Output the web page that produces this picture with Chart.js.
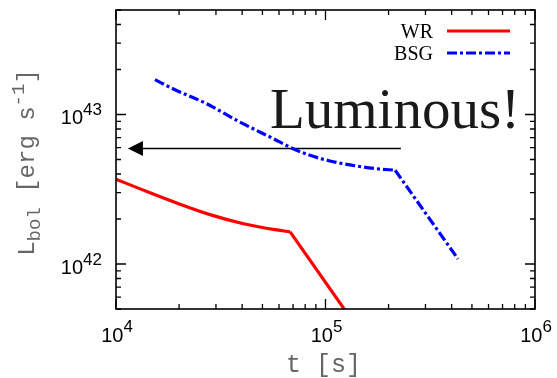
<!DOCTYPE html>
<html>
<head>
<meta charset="utf-8">
<script src="https://cdn.jsdelivr.net/npm/chart.js@4/dist/chart.umd.min.js"></script>
<style>
  html, body { margin: 0; padding: 0; background: #fff; }
  canvas { display: block; }
</style>
</head>
<body>
<canvas id="c" width="557" height="378"></canvas>
<script>
// Bolometric light curves, t [s] vs L_bol [erg/s]
// Each curve has a smooth early part and a steep power-law tail after a break point.
const wrTime = [1.0e4, 1.35e4, 1.95e4, 2.81e4, 4.06e4, 5.85e4, 6.78e4, 1.585e5];
const wrLum  = [3.69e42, 3.12e42, 2.56e42, 2.14e42, 1.86e42, 1.69e42, 1.64e42, 3.0e41];
const wrBreak = 6; // index of the break point

const bsgTime = [1.535e4, 1.88e4, 2.71e4, 3.91e4, 5.64e4, 7.01e4, 8.43e4, 1.05e5, 1.41e5, 1.75e5, 2.15e5, 4.29e5];
const bsgLum  = [1.71e43, 1.48e43, 1.18e43, 8.89e42, 6.89e42, 5.90e42, 5.33e42, 4.89e42, 4.52e42, 4.34e42, 4.24e42, 1.08e42];
const bsgBreak = 10;

// Axis ranges and decade labels
const xRange = [1e4, 1e6];
const yRange = [5e41, 5e43];
const xDecades = [4, 5, 6];
const yDecades = [42, 43];

// Arrow: from (arrowFrom, arrowLevel) pointing to (arrowTo, arrowLevel)
const arrowFrom = 2.29e5;
const arrowTo = 1.14e4;
const arrowLevel = 5.93e42;

// Annotation text anchor
const labelText = 'Luminous!';
const labelAt = { t: 5.43e4, L: 8.07e42 };

const seriesNames = ['WR', 'BSG'];
const seriesColors = ['#ff0000', '#0000ff'];
const bsgDash = [10, 3, 3, 3];

function points(ts, ls, from, to) {
  const out = [];
  for (let i = from; i <= to; i++) out.push({ x: ts[i], y: ls[i] });
  return out;
}

function minorValues(lo, hi) {
  const out = [];
  let d = Math.pow(10, Math.floor(Math.log10(lo)));
  while (d <= hi) {
    for (let m = 1; m <= 9; m++) {
      const v = m * d;
      if (v >= lo * 0.999 && v <= hi * 1.001) out.push({ v, major: m === 1 });
    }
    d *= 10;
  }
  return out;
}

const framePlugin = {
  id: 'frame',
  beforeDatasetsDraw(chart) {
    const { ctx, scales: { x, y } } = chart;
    // arrow
    const yy = y.getPixelForValue(arrowLevel);
    const x0 = x.getPixelForValue(arrowFrom);
    const x1 = x.getPixelForValue(arrowTo);
    ctx.save();
    ctx.strokeStyle = '#000';
    ctx.fillStyle = '#000';
    ctx.lineWidth = 1.5;
    ctx.beginPath();
    ctx.moveTo(x0, yy);
    ctx.lineTo(x1 + 14, yy);
    ctx.stroke();
    ctx.beginPath();
    ctx.moveTo(x1, yy);
    ctx.lineTo(x1 + 15, yy - 7.5);
    ctx.lineTo(x1 + 15, yy + 7.5);
    ctx.closePath();
    ctx.fill();
    ctx.restore();
  },
  afterDraw(chart) {
    const { ctx, chartArea: a, scales: { x, y } } = chart;
    ctx.save();
    // frame
    ctx.strokeStyle = '#000';
    ctx.lineWidth = 1.6;
    ctx.strokeRect(a.left, a.top, a.right - a.left, a.bottom - a.top);
    // inward ticks on all four sides
    ctx.lineWidth = 1.3;
    ctx.beginPath();
    for (const { v, major } of minorValues(xRange[0], xRange[1])) {
      const px = x.getPixelForValue(v);
      const len = major ? 10 : 5;
      ctx.moveTo(px, a.bottom); ctx.lineTo(px, a.bottom - len);
      ctx.moveTo(px, a.top); ctx.lineTo(px, a.top + len);
    }
    for (const { v, major } of minorValues(yRange[0], yRange[1])) {
      const py = y.getPixelForValue(v);
      const len = major ? 10 : 5;
      ctx.moveTo(a.left, py); ctx.lineTo(a.left + len, py);
      ctx.moveTo(a.right, py); ctx.lineTo(a.right - len, py);
    }
    ctx.stroke();

    // tick labels 10^n
    const big = "20px 'Liberation Sans', Arial, sans-serif";
    const small = "17px 'Liberation Sans', Arial, sans-serif";
    ctx.fillStyle = '#000';
    ctx.textBaseline = 'alphabetic';
    ctx.textAlign = 'left';
    for (const e of xDecades) {
      const px = x.getPixelForValue(Math.pow(10, e));
      ctx.font = big; const w1 = ctx.measureText('10').width;
      ctx.font = small; const w2 = ctx.measureText(String(e)).width;
      const sx = px + 1 - (w1 + w2) / 2;
      ctx.font = big; ctx.fillText('10', sx, a.bottom + 33);
      ctx.font = small; ctx.fillText(String(e), sx + w1, a.bottom + 23);
    }
    for (const e of yDecades) {
      const py = y.getPixelForValue(Math.pow(10, e));
      ctx.font = big; const w1 = ctx.measureText('10').width;
      ctx.font = small; const w2 = ctx.measureText(String(e)).width;
      const sx = a.left - 14 - w1 - w2;
      ctx.font = big; ctx.fillText('10', sx, py + 10);
      ctx.font = small; ctx.fillText(String(e), sx + w1, py + 1);
    }

    // axis titles (monospace)
    const mono = s => s + "px 'Liberation Mono', 'Courier New', monospace";
    ctx.fillStyle = '#666';
    ctx.font = mono(25);
    ctx.textAlign = 'center';
    ctx.fillText('t [s]', (a.left + a.right) / 2 - 2, a.bottom + 63);

    const parts = [
      { t: 'L', s: 24, dy: 0 },
      { t: 'bol', s: 19, dy: 6 },
      { t: ' [erg s', s: 24, dy: 0 },
      { t: '-1', s: 19, dy: -10 },
      { t: ']', s: 24, dy: 0 }
    ];
    ctx.textAlign = 'left';
    let total = 0;
    for (const p of parts) { ctx.font = mono(p.s); p.w = ctx.measureText(p.t).width; total += p.w; }
    ctx.save();
    ctx.translate(34, (a.top + a.bottom) / 2 + 3);
    ctx.rotate(-Math.PI / 2);
    let cx = -total / 2;
    for (const p of parts) {
      ctx.font = mono(p.s);
      ctx.fillText(p.t, cx, p.dy);
      cx += p.w;
    }
    ctx.restore();

    // annotation
    ctx.fillStyle = '#1a1a1a';
    ctx.font = "57px 'Liberation Serif', 'Times New Roman', serif";
    ctx.textAlign = 'left';
    ctx.fillText(labelText, x.getPixelForValue(labelAt.t), y.getPixelForValue(labelAt.L));

    // key, top right
    ctx.font = "20px 'Liberation Serif', 'Times New Roman', serif";
    ctx.textAlign = 'right';
    const keyRows = [a.top + 21, a.top + 43];
    seriesNames.forEach((name, i) => {
      const ly = keyRows[i];
      ctx.fillStyle = '#000';
      ctx.fillText(name, a.right - 102, ly + 7);
      ctx.strokeStyle = seriesColors[i];
      ctx.lineWidth = 3;
      ctx.setLineDash(i === 1 ? bsgDash : []);
      ctx.beginPath();
      ctx.moveTo(a.right - 88, ly);
      ctx.lineTo(a.right - 25, ly);
      ctx.stroke();
      ctx.setLineDash([]);
    });
    ctx.restore();
  }
};

const common = { borderWidth: 3.2, pointRadius: 0, fill: false };

new Chart(document.getElementById('c'), {
  type: 'line',
  data: {
    datasets: [
      Object.assign({
        label: seriesNames[0],
        data: points(wrTime, wrLum, 0, wrBreak),
        borderColor: seriesColors[0],
        cubicInterpolationMode: 'monotone'
      }, common),
      Object.assign({
        label: seriesNames[0],
        data: points(wrTime, wrLum, wrBreak, wrTime.length - 1),
        borderColor: seriesColors[0],
        tension: 0
      }, common),
      Object.assign({
        label: seriesNames[1],
        data: points(bsgTime, bsgLum, 0, bsgBreak),
        borderColor: seriesColors[1],
        borderDash: bsgDash,
        cubicInterpolationMode: 'monotone'
      }, common),
      Object.assign({
        label: seriesNames[1],
        data: points(bsgTime, bsgLum, bsgBreak, bsgTime.length - 1),
        borderColor: seriesColors[1],
        borderDash: bsgDash,
        tension: 0
      }, common)
    ]
  },
  options: {
    responsive: false,
    animation: false,
    layout: { padding: { left: 116, right: 22, top: 10, bottom: 69 } },
    plugins: { legend: { display: false }, tooltip: { enabled: false } },
    scales: {
      x: { type: 'logarithmic', min: xRange[0], max: xRange[1], display: false },
      y: { type: 'logarithmic', min: yRange[0], max: yRange[1], display: false }
    }
  },
  plugins: [framePlugin]
});
</script>
</body>
</html>
